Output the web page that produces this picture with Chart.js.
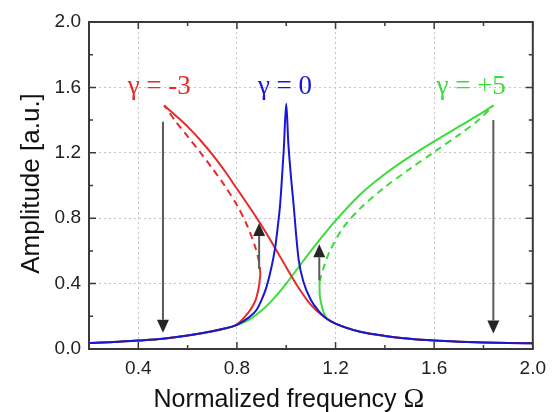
<!DOCTYPE html>
<html>
<head>
<meta charset="utf-8">
<script src="https://cdn.jsdelivr.net/npm/chart.js"></script>
<style>
	html, body { margin: 0; padding: 0; background: #fff; }
	#wrap { width: 554px; height: 412px; }
</style>
</head>
<body>
<div id="wrap"><canvas id="duffing"></canvas></div>
<script>
	// gamma = 0 (linear resonance)
	var blueOmega = [0.2, 0.3, 0.4, 0.5, 0.6, 0.7, 0.75, 0.8, 0.85, 0.88, 0.9, 0.92, 0.94, 0.955, 0.965, 0.975, 0.982, 0.99, 1.0, 1.008, 1.02, 1.03, 1.04, 1.05, 1.07, 1.1, 1.13, 1.16, 1.2, 1.3, 1.4, 1.5, 1.6, 1.7, 1.8, 1.9, 2.0];
	var blueAmp   = [0.037, 0.043, 0.052, 0.063, 0.082, 0.108, 0.125, 0.148, 0.195, 0.24, 0.3, 0.38, 0.5, 0.62, 0.74, 0.88, 1.03, 1.22, 1.5, 1.27, 1.04, 0.88, 0.7, 0.55, 0.41, 0.3, 0.235, 0.19, 0.155, 0.105, 0.08, 0.063, 0.052, 0.045, 0.04, 0.037, 0.035];

	// gamma = -3 (softening)
	var redLowOmega  = [0.2, 0.3, 0.4, 0.5, 0.6, 0.7, 0.75, 0.8, 0.85, 0.87, 0.88, 0.89, 0.895];
	var redLowAmp    = [0.037, 0.043, 0.052, 0.063, 0.082, 0.108, 0.125, 0.15, 0.23, 0.28, 0.32, 0.39, 0.46];
	var redDashOmega = [0.895, 0.89, 0.873, 0.84, 0.8, 0.75, 0.7, 0.65, 0.6, 0.55, 0.505];
	var redDashAmp   = [0.46, 0.53, 0.63, 0.76, 0.88, 1.0, 1.105, 1.205, 1.3, 1.395, 1.49];
	var redUpOmega   = [0.505, 0.55, 0.6, 0.65, 0.7, 0.75, 0.8, 0.85, 0.9, 0.95, 1.0, 1.05, 1.1, 1.15, 1.2, 1.3, 1.4, 1.5, 1.6, 1.7, 1.8, 1.9, 2.0];
	var redUpAmp     = [1.49, 1.43, 1.36, 1.28, 1.19, 1.09, 0.98, 0.87, 0.755, 0.63, 0.5, 0.375, 0.27, 0.2, 0.155, 0.105, 0.08, 0.063, 0.052, 0.045, 0.04, 0.037, 0.035];

	// gamma = +5 (hardening)
	var greenUpOmega   = [0.2, 0.3, 0.4, 0.5, 0.6, 0.7, 0.75, 0.8, 0.85, 0.9, 0.95, 1.0, 1.05, 1.1, 1.15, 1.2, 1.3, 1.4, 1.5, 1.6, 1.7, 1.8, 1.84];
	var greenUpAmp     = [0.037, 0.043, 0.052, 0.063, 0.082, 0.108, 0.125, 0.146, 0.18, 0.235, 0.31, 0.4, 0.5, 0.6, 0.695, 0.785, 0.945, 1.07, 1.175, 1.27, 1.36, 1.45, 1.49];
	var greenDashOmega = [1.135, 1.15, 1.177, 1.23, 1.3, 1.4, 1.5, 1.6, 1.7, 1.78, 1.84];
	var greenDashAmp   = [0.41, 0.49, 0.6, 0.74, 0.86, 0.99, 1.1, 1.205, 1.31, 1.4, 1.49];
	var greenLowOmega  = [1.135, 1.136, 1.143, 1.155, 1.17, 1.2, 1.3, 1.4, 1.5, 1.6, 1.7, 1.8, 1.9, 2.0];
	var greenLowAmp    = [0.41, 0.33, 0.27, 0.21, 0.18, 0.155, 0.105, 0.08, 0.063, 0.052, 0.045, 0.04, 0.037, 0.035];

	// jump arrows
	var arrowOmega = [0.5, 0.89, 1.134, 1.84];
	var arrowFrom  = [1.39, 0.49, 0.42, 1.40];
	var arrowTo    = [0.10, 0.77, 0.64, 0.095];

	// curve labels
	var labelText  = ['\u03b3 = -3', '\u03b3 = 0', '\u03b3 = +5'];
	var labelOmega = [0.485, 0.995, 1.75];
	var labelAmp   = [1.6, 1.6, 1.6];

	var xTicks = [0.4, 0.8, 1.2, 1.6, 2.0];
	var xMinor = [0.6, 1.0, 1.4, 1.8];
	var yTicks = [0.0, 0.4, 0.8, 1.2, 1.6, 2.0];
	var yMinor = [0.2, 0.6, 1.0, 1.4, 1.8];

	var RED = '#e62a2a', BLUE = '#1818d4', GREEN = '#3cdc3c';

	function pts(xs, ys) {
		return xs.map(function (x, i) { return { x: x, y: ys[i] }; });
	}
	// smooth: monotone cubic for single valued branches, tension for the turning ones
	function curve(xs, ys, color, dashed, monotone) {
		return {
			data: pts(xs, ys),
			borderColor: color,
			borderWidth: 2,
			borderDash: dashed ? [7, 5] : [],
			pointRadius: 0,
			cubicInterpolationMode: monotone ? 'monotone' : 'default',
			tension: 0.3,
			fill: false
		};
	}

	var frame = {
		id: 'frame',
		afterDraw: function (chart) {
			var ctx = chart.ctx, a = chart.chartArea;
			var sx = chart.scales.x, sy = chart.scales.y;
			ctx.save();

			// box with inward ticks
			ctx.strokeStyle = '#3a3a3a';
			ctx.lineWidth = 1.5;
			xTicks.concat(xMinor).forEach(function (v) {
				var px = sx.getPixelForValue(v), len = xTicks.indexOf(v) >= 0 ? 7 : 4;
				ctx.beginPath();
				ctx.moveTo(px, a.bottom); ctx.lineTo(px, a.bottom - len);
				ctx.moveTo(px, a.top); ctx.lineTo(px, a.top + len);
				ctx.stroke();
			});
			yTicks.concat(yMinor).forEach(function (v) {
				var py = sy.getPixelForValue(v), len = yTicks.indexOf(v) >= 0 ? 7 : 4;
				ctx.beginPath();
				ctx.moveTo(a.left, py); ctx.lineTo(a.left + len, py);
				ctx.moveTo(a.right, py); ctx.lineTo(a.right - len, py);
				ctx.stroke();
			});
			ctx.lineWidth = 2;
			ctx.strokeRect(a.left, a.top, a.right - a.left, a.bottom - a.top);

			// arrows
			for (var i = 0; i < arrowOmega.length; i++) {
				var px = sx.getPixelForValue(arrowOmega[i]);
				var y0 = sy.getPixelForValue(arrowFrom[i]);
				var y1 = sy.getPixelForValue(arrowTo[i]);
				var dir = y1 > y0 ? 1 : -1, head = 13;
				ctx.strokeStyle = '#5a5a5a';
				ctx.lineWidth = 2;
				ctx.beginPath();
				ctx.moveTo(px, y0); ctx.lineTo(px, y1 - dir * head);
				ctx.stroke();
				ctx.fillStyle = '#262626';
				ctx.beginPath();
				ctx.moveTo(px, y1);
				ctx.lineTo(px - 6, y1 - dir * head);
				ctx.lineTo(px + 6, y1 - dir * head);
				ctx.closePath();
				ctx.fill();
			}

			// gamma labels
			var cols = [RED, BLUE, GREEN];
			ctx.font = '27px "Liberation Serif"';
			ctx.textAlign = 'center';
			ctx.textBaseline = 'middle';
			for (var j = 0; j < labelText.length; j++) {
				ctx.fillStyle = cols[j];
				ctx.fillText(labelText[j], sx.getPixelForValue(labelOmega[j]), sy.getPixelForValue(labelAmp[j]));
			}

			// axis titles
			ctx.fillStyle = '#111';
			ctx.textAlign = 'left';
			ctx.textBaseline = 'alphabetic';
			var t1 = 'Normalized frequency ';
			ctx.font = '25px "Liberation Sans"';
			var w1 = ctx.measureText(t1).width;
			ctx.font = '28px "Liberation Serif"';
			var w2 = ctx.measureText('\u03a9').width;
			var x0 = (a.left + a.right) / 2 - 22 - (w1 + w2) / 2;
			ctx.font = '25px "Liberation Sans"';
			ctx.fillText(t1, x0, 407);
			ctx.font = '28px "Liberation Serif"';
			ctx.fillText('\u03a9', x0 + w1, 407);

			ctx.translate(32, (a.top + a.bottom) / 2 - 2);
			ctx.rotate(-Math.PI / 2);
			ctx.textAlign = 'center';
			ctx.textBaseline = 'middle';
			ctx.font = '26px "Liberation Sans"';
			ctx.fillText('Amplitude [a.u.]', 0, 0);
			ctx.restore();
		}
	};

	var tickFont = { family: 'Liberation Sans', size: 19 };

	var myChart = new Chart(document.getElementById('duffing').getContext('2d'), {
		type: 'line',
		data: {
			datasets: [
				curve(blueOmega, blueAmp, BLUE, false, true),
				curve(redLowOmega, redLowAmp, RED, false, false),
				curve(redDashOmega, redDashAmp, RED, true, false),
				curve(redUpOmega, redUpAmp, RED, false, true),
				curve(greenUpOmega, greenUpAmp, GREEN, false, true),
				curve(greenDashOmega, greenDashAmp, GREEN, true, false),
				curve(greenLowOmega, greenLowAmp, GREEN, false, false)
			]
		},
		options: {
			responsive: true,
			maintainAspectRatio: false,
			animation: false,
			devicePixelRatio: 1,
			layout: { padding: { left: 0, right: 21, top: 22, bottom: 0 } },
			plugins: { legend: { display: false }, tooltip: { enabled: false } },
			scales: {
				x: {
					type: 'linear',
					min: 0.2,
					max: 2.0,
					afterBuildTicks: function (s) { s.ticks = xTicks.map(function (v) { return { value: v }; }); },
					afterFit: function (s) { s.height = 63; },
					ticks: {
						callback: function (v) { return v.toFixed(1); },
						font: tickFont, color: '#222', padding: 8, maxRotation: 0, autoSkip: false
					},
					grid: { color: '#c4c4c4', lineWidth: 1, drawTicks: false },
					border: { display: false, dash: [2, 3] }
				},
				y: {
					type: 'linear',
					min: 0,
					max: 2.0,
					afterBuildTicks: function (s) { s.ticks = yTicks.map(function (v) { return { value: v }; }); },
					afterFit: function (s) { s.width = 89; },
					ticks: {
						callback: function (v) { return v.toFixed(1); },
						font: tickFont, color: '#222', padding: 8, autoSkip: false
					},
					grid: { color: '#c4c4c4', lineWidth: 1, drawTicks: false },
					border: { display: false, dash: [2, 3] }
				}
			}
		},
		plugins: [frame]
	});
</script>
</body>
</html>
